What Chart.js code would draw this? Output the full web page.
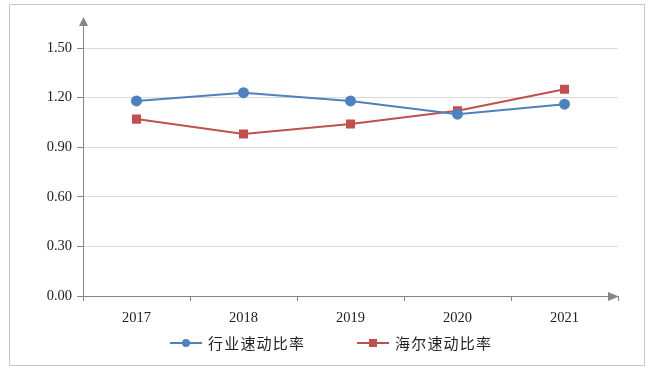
<!DOCTYPE html>
<html>
<head>
<meta charset="utf-8">
<script src="https://cdn.jsdelivr.net/npm/chart.js@4"></script>
<style>
  html, body { margin: 0; padding: 0; background: #fff; }
  #wrap { position: relative; width: 653px; height: 372px; }
  #frame { position: absolute; left: 9px; top: 4px; width: 636px; height: 362px; border: 1px solid #c8c8c8; box-sizing: border-box; }
  canvas { position: absolute; left: 0; top: 0; }
  .leg { position: absolute; top: 333px; font-family: "Noto Sans CJK SC", sans-serif; font-size: 15px; letter-spacing: 1.2px; color: #222; line-height: 20px; white-space: nowrap; }
  .leg .ln { position: absolute; top: 9px; height: 2px; width: 32px; left: 0; }
  .leg .mk { position: absolute; }
  .leg .tx { position: absolute; left: 38px; top: 0; }
</style>
</head>
<body>
<div id="wrap">
  <div id="frame"></div>
  <canvas id="c" width="653" height="372"></canvas>
  <div class="leg" style="left:170px;">
    <div class="ln" style="background:#4F81BD"></div>
    <div class="mk" style="left:12px;top:6px;width:8px;height:8px;border-radius:50%;background:#4F81BD"></div>
    <div class="tx">行业速动比率</div>
  </div>
  <div class="leg" style="left:357px;">
    <div class="ln" style="background:#C0504D"></div>
    <div class="mk" style="left:12px;top:6px;width:8px;height:8px;background:#C0504D"></div>
    <div class="tx">海尔速动比率</div>
  </div>
</div>
<script>
const categories = ["2017", "2018", "2019", "2020", "2021"];
const industryQuickRatio = [1.18, 1.23, 1.18, 1.10, 1.16];
const haierQuickRatio = [1.07, 0.98, 1.04, 1.12, 1.25];
const seriesNames = ["行业速动比率", "海尔速动比率"];
const yTicks = [0, 0.3, 0.6, 0.9, 1.2, 1.5];

const axisColor = "#868686";

const arrowPlugin = {
  id: "arrows",
  afterDraw(chart) {
    const ctx = chart.ctx;
    const a = chart.chartArea;
    const x0 = a.left + 0.5;
    const yb = a.bottom + 0.5;
    ctx.save();
    ctx.strokeStyle = axisColor;
    ctx.fillStyle = axisColor;
    ctx.lineWidth = 1;
    ctx.beginPath();
    ctx.moveTo(x0, a.top);
    ctx.lineTo(x0, 24);
    ctx.stroke();
    ctx.beginPath();
    ctx.moveTo(x0, 17);
    ctx.lineTo(x0 - 4.5, 26);
    ctx.lineTo(x0 + 4.5, 26);
    ctx.closePath();
    ctx.fill();
    ctx.beginPath();
    ctx.moveTo(a.right + 1, yb);
    ctx.lineTo(a.right - 10, yb - 4.5);
    ctx.lineTo(a.right - 10, yb + 4.5);
    ctx.closePath();
    ctx.fill();
    ctx.restore();
  }
};

new Chart(document.getElementById("c"), {
  type: "line",
  data: {
    labels: categories,
    datasets: [
      {
        label: seriesNames[0],
        data: industryQuickRatio,
        borderColor: "#4F81BD",
        backgroundColor: "#4F81BD",
        borderWidth: 2,
        pointStyle: "circle",
        pointRadius: 4.5,
        pointHoverRadius: 4.5,
        tension: 0
      },
      {
        label: seriesNames[1],
        data: haierQuickRatio,
        borderColor: "#C0504D",
        backgroundColor: "#C0504D",
        borderWidth: 2,
        pointStyle: "rect",
        pointRadius: 5,
        pointHoverRadius: 5,
        tension: 0
      }
    ]
  },
  options: {
    responsive: false,
    animation: false,
    events: [],
    layout: { padding: { left: 0, right: 35, top: 48, bottom: 36 } },
    plugins: { legend: { display: false }, tooltip: { enabled: false } },
    scales: {
      x: {
        offset: true,
        grid: {
          offset: true,
          drawOnChartArea: false,
          drawTicks: true,
          tickLength: 5,
          color: axisColor
        },
        border: { color: axisColor, width: 1 },
        ticks: {
          color: "#222",
          font: { family: "'Liberation Serif', 'Times New Roman', serif", size: 14.5 },
          padding: 8,
          maxRotation: 0
        },
        afterFit(s) { s.height = 40; }
      },
      y: {
        min: 0,
        max: 1.5,
        afterBuildTicks(s) { s.ticks = yTicks.map(v => ({ value: v })); },
        grid: {
          color: "#d9d9d9",
          drawTicks: true,
          tickLength: 6,
          tickColor: axisColor
        },
        border: { color: axisColor, width: 1 },
        ticks: {
          color: "#222",
          font: { family: "'Liberation Serif', 'Times New Roman', serif", size: 14.5 },
          padding: 5,
          callback: v => Number(v).toFixed(2)
        },
        afterFit(s) { s.width = 83; }
      }
    }
  },
  plugins: [arrowPlugin]
});
</script>
</body>
</html>
